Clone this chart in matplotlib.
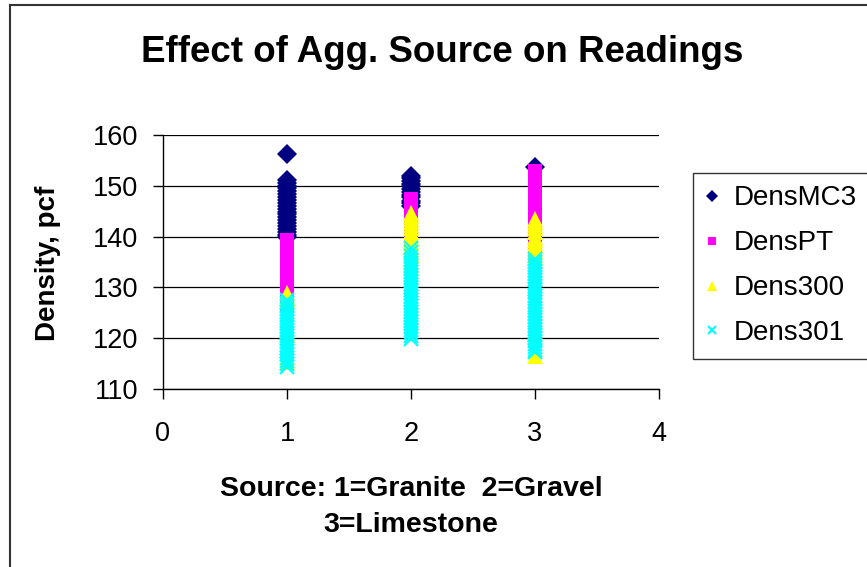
import matplotlib
matplotlib.use("Agg")
import matplotlib.pyplot as plt
from matplotlib.lines import Line2D

plt.rcParams['font.family'] = ['Liberation Sans', 'DejaVu Sans']

# readings per aggregate source (1=Granite, 2=Gravel, 3=Limestone)
sources = [1, 2, 3]
series_names = ['DensMC3', 'DensPT', 'Dens300', 'Dens301']

mc3_granite = [156.3, 151.1, 150.6, 150.0, 149.5, 148.9, 148.3, 147.8, 147.2, 146.6, 146.1,
               145.5, 144.9, 144.4, 143.8, 143.2, 142.7, 142.1, 141.5, 141.0, 140.4, 139.9]
mc3_gravel = [152.0, 151.5, 151.0, 150.4, 149.9, 149.3, 148.8, 148.2, 147.7, 147.1, 146.6, 146.0]
mc3_limestone = [153.7]

pt_granite = [139.4, 138.8, 138.2, 137.6, 137.0, 136.4, 135.8, 135.2, 134.6, 134.0, 133.4,
              132.8, 132.2, 131.6, 131.0, 130.4, 129.8, 129.2, 128.6, 128.0, 127.4, 126.8]
pt_gravel = [147.4, 146.9, 146.3, 145.8, 145.2, 144.6, 144.0, 143.0, 142.0, 141.0, 140.0,
             139.0, 138.0]
pt_limestone = [153.0, 152.4, 151.8, 151.2, 150.6, 150.0, 149.4, 148.8, 148.2, 147.6, 147.0,
                146.4, 145.8, 145.2, 144.6, 144.0, 143.4, 142.8, 142.2, 141.6, 141.0, 140.4,
                139.8, 139.2, 138.6, 138.0, 137.4, 136.8, 136.2]

d300_granite = [128.8, 128.2, 127.6, 121.0, 116.2, 115.4]
d300_gravel = [144.6, 144.0, 143.4, 142.8, 142.2, 141.6, 141.0, 140.4, 139.8, 139.2, 138.6,
               138.0, 137.4, 136.8, 136.2, 135.6, 135.0, 134.4, 133.8]
d300_limestone = [143.4, 142.8, 142.2, 141.6, 141.0, 140.0, 139.4, 138.8, 138.2, 137.6, 137.0,
                  136.4, 135.8, 120.8, 116.4]

d301_granite = [127.6, 127.0, 126.4, 125.8, 125.2, 124.6, 124.0, 123.4, 122.8, 122.2, 121.6,
                121.0, 120.4, 119.8, 119.2, 118.6, 118.0, 117.4, 116.8, 116.2, 115.6, 115.0, 114.4]
d301_gravel = [137.8, 137.0, 136.2, 135.4, 134.8, 134.2, 133.6, 133.0, 132.4, 131.8, 131.2,
               130.6, 130.0, 129.4, 128.8, 128.2, 127.6, 127.0, 126.4, 125.8, 125.2, 124.6,
               124.0, 123.4, 122.8, 122.2, 121.6, 121.0, 120.4, 119.8]
d301_limestone = [135.6, 135.0, 134.4, 133.8, 133.2, 132.6, 132.0, 131.4, 130.8, 130.2, 129.6,
                  129.0, 128.4, 127.8, 127.2, 126.6, 126.0, 125.4, 124.8, 124.2, 123.6, 123.0,
                  122.4, 121.8, 121.2, 120.6, 120.0, 119.4, 118.8, 118.2, 117.6, 117.2]

data = {
    'DensMC3': [mc3_granite, mc3_gravel, mc3_limestone],
    'DensPT': [pt_granite, pt_gravel, pt_limestone],
    'Dens300': [d300_granite, d300_gravel, d300_limestone],
    'Dens301': [d301_granite, d301_gravel, d301_limestone],
}

styles = {
    'DensMC3': dict(marker='D', color='#000080', ms=10, mew=0),
    'DensPT': dict(marker='s', color='#FF00FF', ms=10, mew=0),
    'Dens300': dict(marker='^', color='#FFFF00', ms=11, mew=0),
    'Dens301': dict(marker='x', color='#00FFFF', ms=9.5, mew=1.5),
}

fig = plt.figure(figsize=(8.67, 5.67), dpi=100)
ax = fig.add_axes([163 / 867, 1 - 389 / 567, 496 / 867, 254 / 567])

for name in series_names:
    xs, ys = [], []
    for src, vals in zip(sources, data[name]):
        xs += [src] * len(vals)
        ys += vals
    ax.plot(xs, ys, linestyle='none', label=name, **styles[name])

ax.set_xlim(0, 4)
ax.set_ylim(110, 160)
ax.set_xticks([0, 1, 2, 3, 4])
ax.set_yticks(range(110, 161, 10))
ax.yaxis.grid(True, color='black', linewidth=0.9)
ax.set_axisbelow(True)
for s in ['top', 'right']:
    ax.spines[s].set_visible(False)
for s in ['left', 'bottom']:
    ax.spines[s].set_linewidth(1.0)
ax.tick_params(axis='y', direction='out', length=7, width=1, labelsize=19.5, pad=11)
ax.tick_params(axis='x', direction='out', length=7, width=1, labelsize=19.5, pad=16)

fig.text(0.51, 1 - 52 / 567, 'Effect of Agg. Source on Readings', ha='center', va='center',
         fontsize=26.5, fontweight='bold')
fig.text(48 / 867, 1 - 263 / 567, 'Density, pcf', rotation=90, ha='center', va='center',
         fontsize=20, fontweight='bold')
fig.text(411 / 867, 1 - 507 / 567, 'Source: 1=Granite  2=Gravel\n3=Limestone', ha='center',
         va='center', fontsize=20.5, fontweight='bold', linespacing=1.45)

leg = fig.legend(loc='upper left', bbox_to_anchor=(693 / 867, 1 - 173 / 567), fontsize=20,
                 frameon=True, fancybox=False, edgecolor='black', markerscale=0.6,
                 handlelength=0.5, handletextpad=0.5, labelspacing=0.68, borderpad=0.45,
                 borderaxespad=0)
leg.get_frame().set_linewidth(1.0)

# outer chart border (top and left edges visible)
fig.add_artist(Line2D([10 / 867, 1], [1 - 5 / 567, 1 - 5 / 567], color='#333333', lw=1.5))
fig.add_artist(Line2D([10 / 867, 10 / 867], [0, 1 - 5 / 567], color='#333333', lw=1.5))

fig.savefig('out.png', dpi=100)
